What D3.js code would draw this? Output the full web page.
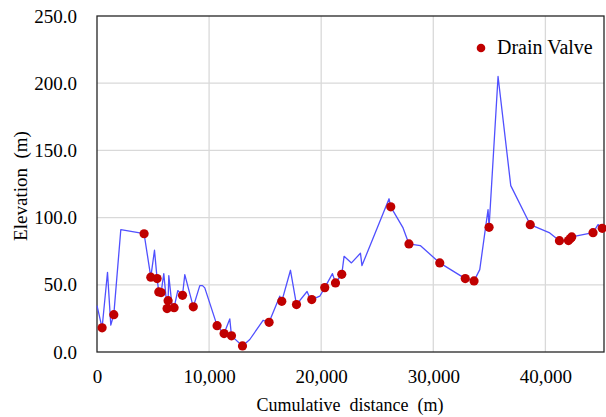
<!DOCTYPE html>
<html>
<head>
<meta charset="utf-8">
<script src="https://cdn.jsdelivr.net/npm/d3@7"></script>
<style>
  html, body { margin: 0; padding: 0; background: #fff; }
</style>
</head>
<body>
<svg id="chart" width="606" height="417"></svg>
<script>
// Pipeline profile: cumulative distance (m) vs. ground elevation (m)
const profileDistance = [0, 455, 937, 1231, 1499, 2123, 4201, 4800, 5129, 5361, 5513, 5718, 5959, 6253, 6342, 6405, 6672, 6877, 7207, 7627, 7832, 8590, 9170, 9411, 9616, 10713, 11337, 11846, 11997, 12979, 13630, 14817, 15352, 16306, 16485, 17261, 17796, 18741, 18920, 19160, 19874, 20320, 21007, 21274, 21836, 22041, 22701, 23504, 23638, 26055, 26207, 27304, 27830, 28838, 30578, 32852, 33637, 34146, 34886, 34976, 35779, 36912, 38651, 40390, 41255, 42058, 42236, 42352, 44252, 44698, 45073, 45207];
const profileElevation = [34.5, 18, 59.3, 20, 27.8, 91, 88, 55.7, 75.7, 54.6, 44.7, 44.2, 58.3, 32.3, 38.2, 56.8, 36, 33, 45.7, 42.2, 57.6, 33.6, 49.4, 49.4, 47.7, 19.6, 13.7, 24.6, 12, 4.5, 9.3, 23.6, 22.1, 41.5, 37.7, 60.8, 35.3, 45, 41.5, 39, 41.5, 47.9, 58.3, 51.4, 57.8, 71.2, 66.3, 73.5, 64.3, 114, 108, 92.3, 80.4, 79.2, 66.3, 54.6, 52.9, 61.3, 106, 92.8, 205, 123.8, 94.7, 88.6, 82.8, 82.9, 84.4, 85.6, 88.8, 94.8, 92, 92.5];

// Drain valve locations
const valveDistance = [455, 1499, 4201, 4800, 5361, 5513, 5718, 6253, 6342, 6877, 7627, 8590, 10713, 11337, 11997, 12979, 15352, 16485, 17796, 19160, 20320, 21274, 21836, 26207, 27830, 30578, 32852, 33637, 34976, 38651, 41255, 42058, 42236, 42352, 44252, 45073];
const valveElevation = [18, 27.8, 88, 55.7, 54.6, 44.7, 44.2, 32.3, 38.2, 33, 42.2, 33.6, 19.6, 13.7, 12, 4.5, 22.1, 37.7, 35.3, 39, 47.9, 51.4, 57.8, 108, 80.4, 66.3, 54.6, 52.9, 92.8, 94.7, 82.8, 82.9, 84.4, 85.6, 88.8, 92];

const xTicks = [0, 10000, 20000, 30000, 40000];
const yTicks = [0, 50, 100, 150, 200, 250];

const FONT = "'Liberation Serif'";

const svg = d3.select("#chart");
const margin = { left: 97, top: 16, right: 2, bottom: 65 };
const W = 606, H = 417;
const plotW = W - margin.left - margin.right;
const plotH = H - margin.top - margin.bottom;

const x = d3.scaleLinear().domain([0, 45230]).range([margin.left, margin.left + plotW]);
const y = d3.scaleLinear().domain([0, 250]).range([margin.top + plotH, margin.top]);

// gridlines
const grid = svg.append("g");
grid.selectAll(".gx").data(xTicks.slice(1)).join("line")
  .attr("x1", d => x(d)).attr("x2", d => x(d))
  .attr("y1", y(0)).attr("y2", y(250))
  .attr("stroke", "#d9d9d9").attr("stroke-width", 1.3);
grid.selectAll(".gy").data(yTicks.slice(1, -1)).join("line")
  .attr("x1", x(0)).attr("x2", x.range()[1])
  .attr("y1", d => y(d)).attr("y2", d => y(d))
  .attr("stroke", "#d9d9d9").attr("stroke-width", 1.3);

// plot frame
svg.append("rect")
  .attr("x", x(0)).attr("y", y(250))
  .attr("width", plotW).attr("height", plotH)
  .attr("fill", "none").attr("stroke", "#262626").attr("stroke-width", 1.3);

// axes (labels only; frame drawn above)
const xAxis = svg.append("g").attr("transform", `translate(0,${y(0)})`)
  .call(d3.axisBottom(x).tickValues(xTicks).tickFormat(d3.format(",")).tickSize(0).tickPadding(18));
const yAxis = svg.append("g").attr("transform", `translate(${x(0)},0)`)
  .call(d3.axisLeft(y).tickValues(yTicks).tickFormat(d3.format(".1f")).tickSize(0).tickPadding(20));
[xAxis, yAxis].forEach(a => {
  a.attr("font-family", null).attr("font-size", null);
  a.select(".domain").remove();
  a.selectAll("text")
    .style("font-family", FONT)
    .style("font-size", "19px")
    .attr("fill", "#000");
});

// elevation profile
const line = d3.line().x(d => x(d[0])).y(d => y(d[1]));
svg.append("path")
  .datum(profileDistance.map((d, i) => [d, profileElevation[i]]))
  .attr("d", line)
  .attr("fill", "none").attr("stroke", "#5050ff").attr("stroke-width", 1.3)
  .attr("stroke-linejoin", "round");

// drain valves
svg.append("g").selectAll("circle")
  .data(valveDistance.map((d, i) => [d, valveElevation[i]]))
  .join("circle")
  .attr("cx", d => x(d[0])).attr("cy", d => y(d[1]))
  .attr("r", 4.6).attr("fill", "#c00000");

// axis titles
svg.append("text")
  .attr("x", 350).attr("y", 411).attr("text-anchor", "middle")
  .style("font-family", FONT).style("font-size", "18px").style("white-space", "pre")
  .text("Cumulative  distance  (m)");
svg.append("text")
  .attr("transform", "translate(27,186) rotate(-90)").attr("text-anchor", "middle")
  .style("font-family", FONT).style("font-size", "19px").style("white-space", "pre")
  .text("Elevation  (m)");

// legend
svg.append("circle").attr("cx", 481).attr("cy", 48).attr("r", 4.3).attr("fill", "#c00000");
svg.append("text").attr("x", 497).attr("y", 54)
  .style("font-family", FONT).style("font-size", "20px").text("Drain Valve");
</script>
</body>
</html>
